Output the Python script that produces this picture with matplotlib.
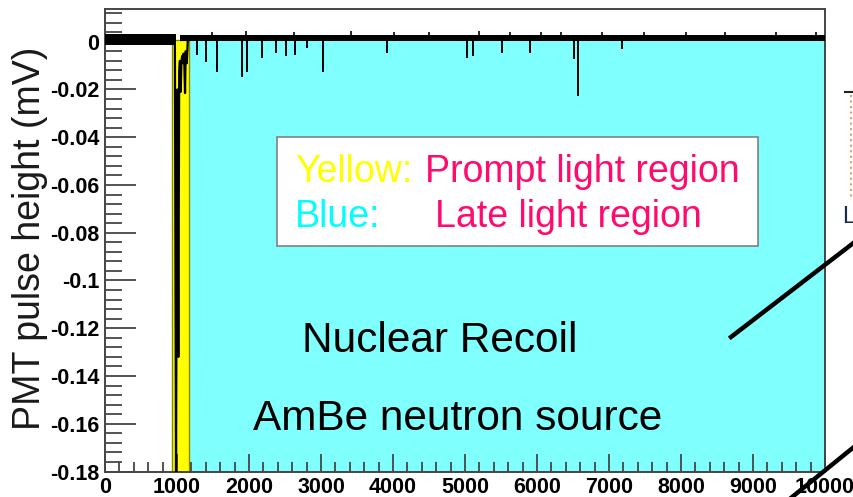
import matplotlib
matplotlib.use("Agg")
import matplotlib.pyplot as plt
from matplotlib.lines import Line2D
from matplotlib.patches import Rectangle
from matplotlib.ticker import MultipleLocator, FixedLocator, FixedFormatter

plt.rcParams['font.family'] = ['Liberation Sans', 'DejaVu Sans']

# time windows (ns)
prompt_window = [930, 1167]
late_window = [1167, 10000]
region_top = 0.0006

# baseline noise envelope (mV)
pre_noise_t = [0, 985]
pre_noise_lo = [-0.0014, -0.0014]
pre_noise_hi = [0.0033, 0.0033]
post_noise_t = [1040, 10000]
post_noise_lo = [0.0005, 0.0005]
post_noise_hi = [0.0029, 0.0029]

# small positive excursions on top of the baseline
bump_t = [1480, 1960, 2620, 3420, 4010, 4500, 5200, 5620, 6050, 6330, 6900,
          7480, 8070, 8610, 9320, 9880]
bump_v = [0.0042, 0.0045, 0.0040, 0.0043, 0.0040, 0.0041, 0.0044, 0.0040, 0.0042,
          0.0041, 0.0040, 0.0042, 0.0040, 0.0041, 0.0042, 0.0040]

# main scintillation pulse
pulse_t = [955, 970, 986, 995, 1005, 1018, 1030, 1040, 1051, 1060, 1070, 1080,
           1090, 1100, 1111, 1120, 1135, 1150]
pulse_v = [0.001, 0.0005, -0.185, -0.07, -0.02, -0.132, -0.012, -0.008, -0.021,
           -0.009, -0.006, -0.009, -0.005, -0.008, -0.0215, -0.004, -0.009, 0.001]

# single photoelectron spikes in the late window
spike_t = [1274, 1403, 1551, 1899, 1972, 2181, 2371, 2510, 2639, 2801, 3024,
           3921, 5024, 5107, 5510, 5903, 6514, 6574, 7176]
spike_v = [-0.0055, -0.0087, -0.0125, -0.0148, -0.0125, -0.0067, -0.0046, -0.006,
           -0.0055, -0.0025, -0.0125, -0.0047, -0.0068, -0.0059, -0.0047, -0.0047,
           -0.0073, -0.0226, -0.003]

y_ticks = [0, -0.02, -0.04, -0.06, -0.08, -0.1, -0.12, -0.14, -0.16, -0.18]
y_tick_labels = ['0', '-0.02', '-0.04', '-0.06', '-0.08', '-0.1', '-0.12', '-0.14',
                 '-0.16', '-0.18']
x_ticks = [0, 1000, 2000, 3000, 4000, 5000, 6000, 7000, 8000, 9000, 10000]
x_tick_labels = [str(v) for v in x_ticks]

fig = plt.figure(figsize=(8.54, 4.97), dpi=100)
ax = fig.add_axes([0.123, 0.0513, 0.8431, 0.9306])

# integration regions
ax.fill_between(late_window, -0.18, region_top, color='#80ffff', lw=0, zorder=1)
ax.fill_between(prompt_window, -0.18, region_top, facecolor='#ffff00',
                edgecolor='#8a8a00', lw=1.0, zorder=1)

# waveform
ax.fill_between(pre_noise_t, pre_noise_lo, pre_noise_hi, color='black', lw=0, zorder=3)
ax.fill_between(post_noise_t, post_noise_lo, post_noise_hi, color='black', lw=0, zorder=3)
ax.vlines(bump_t, 0.002, bump_v, color='black', lw=1.2, zorder=3)
ax.vlines(spike_t, 0.0005, spike_v, color='black', lw=1.4, zorder=3)
ax.plot(pulse_t, pulse_v, color='black', lw=1.6, zorder=4)

ax.set_xlim(0, 10000)
ax.set_ylim(-0.18, 0.0137)

ax.xaxis.set_major_locator(FixedLocator(x_ticks))
ax.xaxis.set_major_formatter(FixedFormatter(x_tick_labels))
ax.xaxis.set_minor_locator(MultipleLocator(200))
ax.yaxis.set_major_locator(FixedLocator(y_ticks))
ax.yaxis.set_major_formatter(FixedFormatter(y_tick_labels))
ax.yaxis.set_minor_locator(MultipleLocator(0.004))

tick_col = '#454545'
ax.tick_params(axis='x', which='major', direction='in', length=13, width=1.3,
               color=tick_col, pad=4, labelsize=15.5)
ax.tick_params(axis='x', which='minor', direction='in', length=7, width=1.3,
               color=tick_col)
ax.tick_params(axis='y', which='major', direction='in', length=22, width=1.3,
               color=tick_col, pad=4, labelsize=15.5)
ax.tick_params(axis='y', which='minor', direction='in', length=12, width=1.3,
               color=tick_col)
for lab in ax.get_xticklabels() + ax.get_yticklabels():
    lab.set_fontweight('bold')
for sp in ax.spines.values():
    sp.set_color(tick_col)
    sp.set_linewidth(1.4)

fig.text(0.035, 0.521, 'PMT pulse height (mV)', rotation=90, ha='center',
         va='center', fontsize=27, color='#1a1a1a')

# legend box
fig.patches.append(Rectangle((0.3244, 0.505), 0.5632, 0.2193, transform=fig.transFigure,
                             facecolor='white', edgecolor='#808080', lw=1.2, zorder=5))
fig.text(0.3454, 0.6344, 'Yellow:', color='#ffff00', fontsize=27, va='baseline', zorder=6)
fig.text(0.4977, 0.6344, 'Prompt light region', color='#ff0a6e', fontsize=27,
         va='baseline', zorder=6)
fig.text(0.3454, 0.5439, 'Blue:', color='#00ffff', fontsize=27, va='baseline', zorder=6)
fig.text(0.5094, 0.5439, 'Late light region', color='#ff0a6e', fontsize=27,
         va='baseline', zorder=6)

fig.text(0.3536, 0.2924, 'Nuclear Recoil', color='black', fontsize=30.5, va='baseline')
fig.text(0.2963, 0.1348, 'AmBe neutron source', color='black', fontsize=30.5,
         va='baseline')

# connector lines towards the neighbouring panel
W, H = 854.0, 497.0
fig.lines.append(Line2D([731 / W, 1.01], [1 - 337 / H, 1 - 236 / H],
                        transform=fig.transFigure, color='black', lw=3.2))
fig.lines.append(Line2D([786 / W, 1.01], [-0.01, 1 - 440 / H],
                        transform=fig.transFigure, color='black', lw=3.2))
fig.lines.append(Line2D([851 / W, 851 / W], [1 - 95 / H, 1 - 200 / H],
                        transform=fig.transFigure, color='#e0a060', lw=1.5, ls=':'))
fig.lines.append(Line2D([845 / W, 1.0], [1 - 92 / H, 1 - 92 / H],
                        transform=fig.transFigure, color='#202020', lw=1.5))
fig.text(842 / W, 1 - 223 / H, 'L', color='#1a2a50', fontsize=17, va='baseline')

fig.savefig('out.png', dpi=100, facecolor='white')
